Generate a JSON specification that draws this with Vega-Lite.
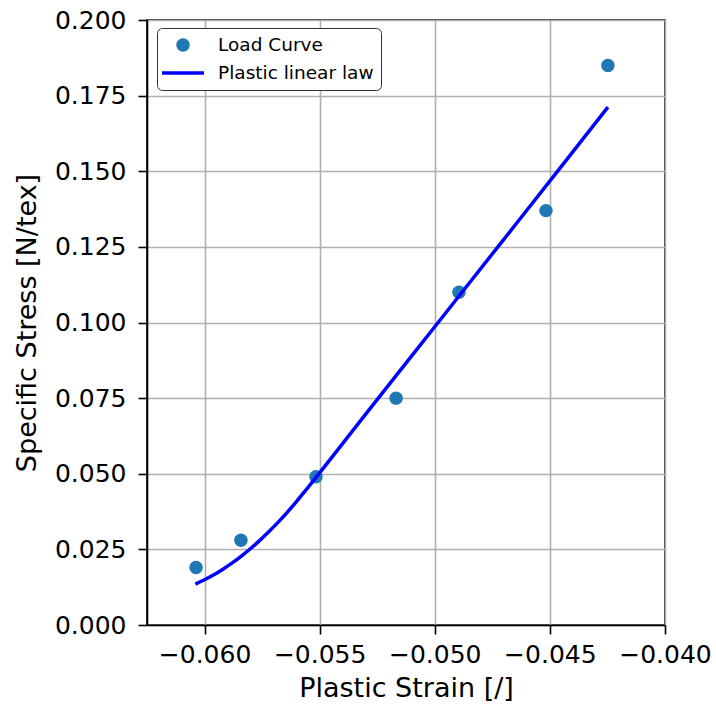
{
  "$schema": "https://vega.github.io/schema/vega-lite/v6.json",
  "width": 518,
  "height": 605,
  "autosize": "none",
  "padding": {"left": 147, "top": 20, "right": 51, "bottom": 86},
  "background": "white",
  "config": {
    "font": "DejaVu Sans",
    "view": {"stroke": "black", "strokeWidth": 1.6},
    "axis": {
      "labelFont": "DejaVu Sans",
      "labelFontSize": 25,
      "labelColor": "black",
      "titleFont": "DejaVu Sans",
      "titleFontSize": 27,
      "titleFontWeight": "normal",
      "titleColor": "black",
      "domainColor": "black",
      "domainWidth": 1.6,
      "tickColor": "black",
      "tickWidth": 1.6,
      "tickSize": 9,
      "gridColor": "#b0b0b0",
      "gridWidth": 1.6,
      "gridOpacity": 1
    },
    "legend": {
      "labelFont": "DejaVu Sans",
      "labelFontSize": 18.5,
      "labelColor": "black"
    }
  },
  "datasets": {
    "pts": [
      {"strain": -0.06037, "stress": 0.019, "series": "Load Curve"},
      {"strain": -0.05842, "stress": 0.028, "series": "Load Curve"},
      {"strain": -0.05516, "stress": 0.049, "series": "Load Curve"},
      {"strain": -0.05168, "stress": 0.075, "series": "Load Curve"},
      {"strain": -0.04895, "stress": 0.110, "series": "Load Curve"},
      {"strain": -0.04517, "stress": 0.137, "series": "Load Curve"},
      {"strain": -0.04248, "stress": 0.185, "series": "Load Curve"}
    ],
    "fit": [
      {"strain": -0.0604, "stress": 0.0135},
      {"strain": -0.0600, "stress": 0.01494},
      {"strain": -0.0596, "stress": 0.01659},
      {"strain": -0.0592, "stress": 0.01845},
      {"strain": -0.0588, "stress": 0.02052},
      {"strain": -0.0584, "stress": 0.0228},
      {"strain": -0.0580, "stress": 0.02529},
      {"strain": -0.0576, "stress": 0.02798},
      {"strain": -0.0572, "stress": 0.0309},
      {"strain": -0.0568, "stress": 0.0340},
      {"strain": -0.0564, "stress": 0.03733},
      {"strain": -0.0560, "stress": 0.04087},
      {"strain": -0.0556, "stress": 0.0446},
      {"strain": -0.0530, "stress": 0.0697},
      {"strain": -0.0500, "stress": 0.0986},
      {"strain": -0.0470, "stress": 0.1275},
      {"strain": -0.0445, "stress": 0.1516},
      {"strain": -0.04248, "stress": 0.1712}
    ]
  },
  "layer": [
    {
      "data": {"name": "pts"},
      "mark": {"type": "point", "filled": true, "opacity": 1, "size": 400},
      "encoding": {
        "x": {
          "field": "strain", "type": "quantitative",
          "scale": {"domain": [-0.0625, -0.04], "nice": false, "zero": false},
          "axis": {
            "title": "Plastic Strain [/]",
            "values": [-0.06, -0.055, -0.05, -0.045, -0.04],
            "format": ".3f",
            "labelPadding": 8,
            "titlePadding": 8,
            "labelFlush": false
          }
        },
        "y": {
          "field": "stress", "type": "quantitative",
          "scale": {"domain": [0, 0.2], "nice": false},
          "axis": {
            "title": "Specific Stress [N/tex]",
            "values": [0, 0.025, 0.05, 0.075, 0.1, 0.125, 0.15, 0.175, 0.2],
            "format": ".3f",
            "labelPadding": 12,
            "titlePadding": 13,
            "labelFlush": false
          }
        },
        "color": {
          "field": "series", "type": "nominal",
          "scale": {"domain": ["Load Curve", "Plastic linear law"], "range": ["#1f77b4", "#0000ff"]},
          "legend": {
            "title": null,
            "orient": "none",
            "legendX": 10,
            "legendY": 8,
            "padding": 7,
            "symbolSize": 400,
            "symbolOffset": 9,
            "symbolStrokeWidth": 0,
            "labelOffset": 25,
            "rowPadding": 8,
            "strokeColor": "#333333",
            "fillColor": "white",
            "cornerRadius": 5
          }
        },
        "shape": {
          "field": "series", "type": "nominal",
          "scale": {
            "domain": ["Load Curve", "Plastic linear law"],
            "range": ["M-0.67,0A0.67,0.67 0 1,1 0.67,0A0.67,0.67 0 1,1 -0.67,0Z", "M-2.1,-0.175L2.1,-0.175L2.1,0.175L-2.1,0.175Z"]
          },
          "legend": {
            "title": null,
            "orient": "none",
            "legendX": 10,
            "legendY": 8,
            "padding": 7,
            "symbolSize": 400,
            "symbolOffset": 9,
            "symbolStrokeWidth": 0,
            "labelOffset": 25,
            "rowPadding": 8,
            "strokeColor": "#333333",
            "fillColor": "white",
            "cornerRadius": 5
          }
        }
      }
    },
    {
      "data": {"name": "fit"},
      "mark": {"type": "line", "color": "#0000ff", "strokeWidth": 3.5, "interpolate": "monotone"},
      "encoding": {
        "x": {"field": "strain", "type": "quantitative"},
        "y": {"field": "stress", "type": "quantitative"}
      }
    }
  ]
}
